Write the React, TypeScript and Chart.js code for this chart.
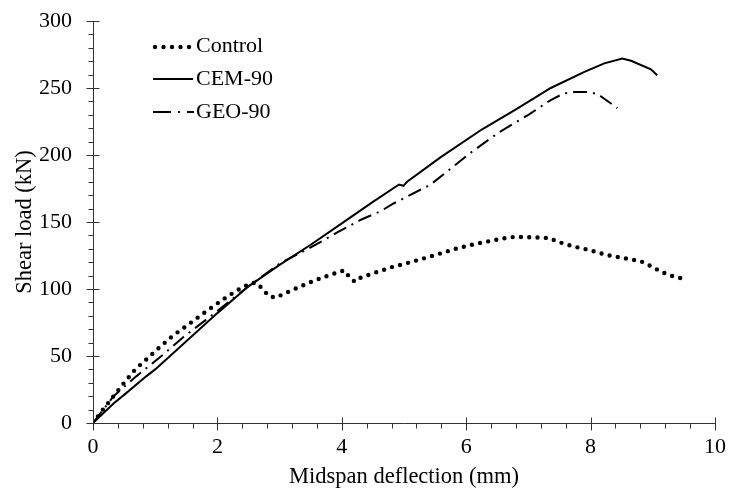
import React, { useEffect, useRef } from 'react';
import { Chart, registerables } from 'chart.js';

Chart.register(...registerables);

const FONT = '"Liberation Serif", "Times New Roman", serif';

// Control beam
const controlX = [0, 0.16, 0.33, 0.5, 0.68, 0.87, 1.07, 1.28, 1.49, 1.71, 1.93, 2.18, 2.39, 2.55, 2.63, 2.73, 2.82, 2.93, 3.05, 3.29, 3.54, 3.78, 4.04, 4.12, 4.21, 4.31, 4.57, 4.81, 5.07, 5.33, 5.59, 5.85, 6.12, 6.38, 6.66, 6.8, 7.2, 7.34, 7.47, 7.72, 7.99, 8.26, 8.53, 8.8, 8.93, 9.05, 9.18, 9.31, 9.44];
const controlY = [0, 10, 20, 30, 40, 48, 56.5, 65, 72, 79.6, 87, 95, 101, 104.5, 104.5, 100, 95, 93.5, 96, 101, 106, 110, 114, 109, 105.4, 108.7, 112.7, 116.4, 119.6, 123, 126.6, 130.3, 133.3, 135.8, 138.3, 139, 138.3, 138, 135.3, 131.8, 129, 125.4, 123, 120.9, 118, 115, 112, 109.7, 108.2];

// CEM-90
const cemX = [0, 0.33, 0.5, 0.86, 1, 1.5, 2, 2.5, 3, 3.5, 4, 4.5, 4.92, 4.99, 5.05, 5.58, 6.25, 6.8, 7.36, 7.9, 8.22, 8.51, 8.65, 8.97, 9.07];
const cemY = [0, 14.6, 21, 35, 40, 61, 82, 102, 118, 133, 149, 165, 178, 177, 180, 198, 219, 234, 250, 262, 268.4, 272, 270.3, 264, 259.5];

// GEO-90
const geoX = [0, 0.33, 0.7, 1.1, 1.45, 1.9, 2.5, 3, 3.5, 3.92, 4.3, 4.62, 4.84, 5.05, 5.43, 6.05, 6.53, 7, 7.36, 7.57, 7.75, 7.97, 8.11, 8.22, 8.43];
const geoY = [0, 20, 35, 50, 64, 80, 102, 119, 131, 142, 151.5, 158, 164, 169, 178, 201, 217, 230, 241, 246, 247, 247, 245.5, 242, 235];

const seriesNames = ['Control', 'CEM-90', 'GEO-90'];
const xMin = 0, xMax = 10, xMajorStep = 2, xMinorStep = 0.4;
const yMin = 0, yMax = 300, yMajorStep = 50, yMinorStep = 10;
const xTitle = 'Midspan deflection (mm)';
const yTitle = 'Shear load (kN)';

const toPts = (xs: number[], ys: number[]) => xs.map((x, i) => ({ x, y: ys[i] }));

const axesPlugin = {
  id: 'axesTicks',
  afterDraw(chart: any) {
    const ctx = chart.ctx;
    const xs = chart.scales.x;
    const ys = chart.scales.y;
    const { left, bottom, top, right } = chart.chartArea;
    ctx.save();
    ctx.strokeStyle = '#333';
    ctx.lineWidth = 1;
    const L = Math.round(left) + 0.5;
    const B = Math.round(bottom) + 0.5;
    ctx.beginPath();
    ctx.moveTo(L, Math.round(top));
    ctx.lineTo(L, B);
    ctx.lineTo(Math.round(right), B);
    ctx.stroke();
    const nx = Math.round((xMax - xMin) / xMinorStep);
    const perX = Math.round(xMajorStep / xMinorStep);
    ctx.beginPath();
    for (let i = 0; i <= nx; i++) {
      const px = Math.round(xs.getPixelForValue(xMin + i * xMinorStep)) + 0.5;
      if (i % perX === 0) {
        ctx.moveTo(px, B - 6);
        ctx.lineTo(px, B + 7);
      } else {
        ctx.moveTo(px, B);
        ctx.lineTo(px, B + 5);
      }
    }
    const ny = Math.round((yMax - yMin) / yMinorStep);
    const perY = Math.round(yMajorStep / yMinorStep);
    for (let i = 0; i <= ny; i++) {
      const py = Math.round(ys.getPixelForValue(yMin + i * yMinorStep)) + 0.5;
      if (i % perY === 0) {
        ctx.moveTo(L - 7, py);
        ctx.lineTo(L + 6, py);
      } else {
        ctx.moveTo(L - 5, py);
        ctx.lineTo(L, py);
      }
    }
    ctx.stroke();

    // legend
    ctx.fillStyle = '#000';
    ctx.strokeStyle = '#000';
    ctx.font = '22px ' + FONT;
    ctx.textBaseline = 'middle';
    ctx.textAlign = 'left';
    const lx = 153;
    const tx = 196;
    const rows = [46, 79, 112];
    for (let k = 0; k < 5; k++) {
      ctx.beginPath();
      ctx.arc(lx + 2 + k * 8.5, rows[0] + 1, 2.2, 0, Math.PI * 2);
      ctx.fill();
    }
    ctx.fillText(seriesNames[0], tx, rows[0]);
    ctx.lineWidth = 2;
    ctx.beginPath();
    ctx.moveTo(lx, rows[1]);
    ctx.lineTo(lx + 40, rows[1]);
    ctx.stroke();
    ctx.fillText(seriesNames[1], tx, rows[1]);
    ctx.beginPath();
    ctx.moveTo(lx, rows[2]);
    ctx.lineTo(lx + 18, rows[2]);
    ctx.moveTo(lx + 25, rows[2]);
    ctx.lineTo(lx + 27, rows[2]);
    ctx.moveTo(lx + 34, rows[2]);
    ctx.lineTo(lx + 41, rows[2]);
    ctx.stroke();
    ctx.fillText(seriesNames[2], tx, rows[2]);
    ctx.restore();
  },
};

export default function App() {
  const ref = useRef<HTMLCanvasElement | null>(null);
  useEffect(() => {
    if (!ref.current) return;
    const chart = new Chart(ref.current, {
      type: 'scatter',
      data: {
        datasets: [
          {
            label: seriesNames[0],
            data: toPts(controlX, controlY),
            showLine: true,
            borderColor: '#000',
            borderWidth: 4.4,
            borderDash: [0, 8.3],
            borderCapStyle: 'round',
            pointRadius: 0,
            tension: 0,
          },
          {
            label: seriesNames[1],
            data: toPts(cemX, cemY),
            showLine: true,
            borderColor: '#000',
            borderWidth: 2,
            pointRadius: 0,
            tension: 0,
          },
          {
            label: seriesNames[2],
            data: toPts(geoX, geoY),
            showLine: true,
            borderColor: '#000',
            borderWidth: 2,
            borderDash: [14, 6, 2, 6],
            pointRadius: 0,
            tension: 0,
          },
        ],
      },
      options: {
        animation: false,
        responsive: true,
        maintainAspectRatio: false,
        layout: { padding: { top: 21, right: 8, left: 0, bottom: 0 } },
        plugins: {
          legend: { display: false },
          tooltip: { enabled: false },
        },
        scales: {
          x: {
            type: 'linear',
            min: xMin,
            max: xMax,
            afterFit: (s: any) => { s.height = 70; },
            grid: { display: false },
            border: { display: false },
            ticks: {
              stepSize: xMajorStep,
              color: '#000',
              padding: 3,
              font: { family: FONT, size: 22 },
            },
            title: {
              display: true,
              text: xTitle,
              color: '#000',
              font: { family: FONT, size: 22.5 },
              padding: { top: 0, bottom: 2 },
            },
          },
          y: {
            type: 'linear',
            min: yMin,
            max: yMax,
            afterFit: (s: any) => { s.width = 93; s.paddingTop = 0; s.paddingBottom = 0; },
            grid: { display: false },
            border: { display: false },
            ticks: {
              stepSize: yMajorStep,
              color: '#000',
              padding: 13,
              font: { family: FONT, size: 22 },
            },
            title: {
              display: true,
              text: yTitle,
              color: '#000',
              font: { family: FONT, size: 22.5 },
              padding: { top: 12, bottom: 0 },
            },
          },
        },
      },
      plugins: [axesPlugin],
    } as any);
    return () => chart.destroy();
  }, []);
  return (
    <div style={{ position: 'fixed', left: 0, top: 0, width: 729, height: 493, background: '#fff' }}>
      <canvas ref={ref} />
    </div>
  );
}
